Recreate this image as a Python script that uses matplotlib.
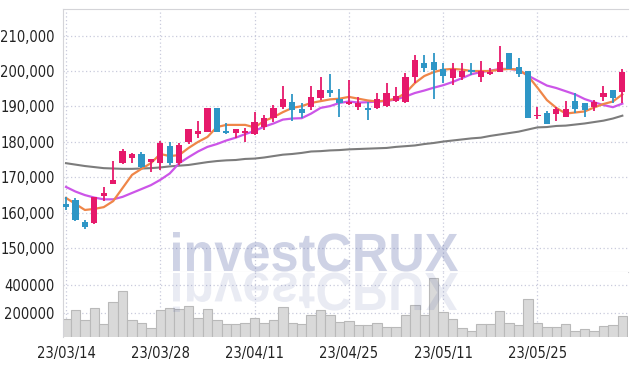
# -*- coding: utf-8 -*-
"""Grafico de velas con medias moviles y volumen"""
import numpy as np
import matplotlib
matplotlib.use("Agg")
import matplotlib.pyplot as plt
from matplotlib.textpath import TextPath
from matplotlib.patches import PathPatch
from matplotlib.font_manager import FontProperties, findfont
from matplotlib.transforms import Affine2D

# fechas (dias de mercado)
fechas = ["23/03/14", "23/03/15", "23/03/16", "23/03/17", "23/03/20", "23/03/21", "23/03/22",
          "23/03/23", "23/03/24", "23/03/27", "23/03/28", "23/03/29", "23/03/30", "23/03/31",
          "23/04/03", "23/04/04", "23/04/05", "23/04/06", "23/04/07", "23/04/10", "23/04/11",
          "23/04/12", "23/04/13", "23/04/14", "23/04/17", "23/04/18", "23/04/19", "23/04/20",
          "23/04/21", "23/04/24", "23/04/25", "23/04/26", "23/04/27", "23/04/28", "23/05/02",
          "23/05/03", "23/05/04", "23/05/08", "23/05/09", "23/05/10", "23/05/11", "23/05/12",
          "23/05/15", "23/05/16", "23/05/17", "23/05/18", "23/05/19", "23/05/22", "23/05/23",
          "23/05/24", "23/05/25", "23/05/26", "23/05/30", "23/05/31", "23/06/01", "23/06/02",
          "23/06/05", "23/06/07", "23/06/08", "23/06/09"]

# precios OHLC
apertura = [162480, 163610, 157410, 157040, 164820, 168040, 173960, 175370, 176580, 174240,
            173960, 178930, 173960, 179880, 182220, 182870, 189470, 183070, 182590, 182420,
            182220, 184280, 186650, 189920, 191160, 189270, 189920, 192460, 194630, 192010,
            190600, 189920, 189640, 189470, 190200, 191610, 191330, 198210, 202330, 202610,
            200470, 197930, 198380, 200270, 198210, 199140, 199790, 204980, 201200, 199990,
            187300, 188060, 187780, 187100, 191530, 191050, 189750, 192740, 194630, 194150]
maximo = [164540, 164090, 157970, 164500, 167360, 174690, 178000, 176950, 177230, 175180,
          180330, 179880, 179770, 183700, 185970, 189600, 189600, 185240, 183600, 183920,
          188340, 187580, 190400, 195760, 193500, 190880, 195760, 198210, 199140, 194830,
          197450, 192660, 191330, 193870, 196520, 195560, 199340, 204500, 204500, 204980,
          202330, 202160, 202160, 202160, 202890, 200750, 206950, 205100, 203570, 200100,
          189750, 188790, 189750, 191610, 193870, 191100, 191810, 195760, 194700, 200550]
minimo = [160790, 157800, 155350, 156900, 163410, 168040, 173680, 174130, 172550, 171420,
          172070, 173480, 173500, 179500, 181010, 182700, 182870, 182140, 181010, 179880,
          181940, 183350, 185690, 189190, 185970, 186650, 188990, 191810, 192740, 187100,
          190500, 188990, 186170, 189300, 189920, 191330, 190880, 196690, 199790, 192010,
          196520, 196040, 197450, 198860, 196970, 198860, 199700, 200470, 198380, 186820,
          186370, 185130, 185970, 187000, 188060, 187100, 188790, 191530, 191050, 191050]
cierre = [161720, 157970, 156080, 164370, 165500, 169250, 177510, 176580, 173000, 175090,
          179700, 173960, 179120, 183550, 183070, 189470, 182870, 182590, 183550, 182980,
          185520, 186650, 189640, 192090, 188990, 188230, 192570, 194630, 193870, 191050,
          191330, 191050, 188990, 192010, 193700, 192940, 198210, 203090, 200920, 200270,
          198580, 200470, 199900, 199850, 200130, 199790, 202440, 200470, 199140, 186820,
          187500, 185130, 189270, 189190, 189270, 188990, 191330, 193700, 192460, 199620]

# medias moviles
ma_naranja = [164200, 162500, 160800, 161100, 161600, 163300, 167000, 170700, 172400, 174000,
              176600, 176000, 176300, 178300, 180000, 181400, 184200, 184800, 184800, 184800,
              184100, 185900, 187000, 188400, 189600, 190100, 191000, 191500, 192000, 192200,
              192700, 192200, 191700, 191400, 191700, 192200, 193800, 196600, 198600, 199700,
              200400, 200600, 200400, 200000, 200000, 200000, 200400, 200600, 200400, 198600,
              195300, 191800, 189600, 188000, 188300, 188600, 189700, 190700, 191400, 193400]
ma_morada = [167300, 166000, 165000, 164300, 163800, 163800, 164500, 165600, 166700, 167800,
             169300, 171100, 174000, 175700, 177300, 178600, 179400, 180400, 181200, 182200,
             183100, 184300, 185200, 186300, 186600, 186700, 188000, 189600, 190100, 191000,
             191400, 191100, 191200, 191400, 191500, 192000, 192800, 193800, 194500, 195300,
             196000, 196900, 198000, 199100, 199700, 200100, 200600, 200600, 200300, 198700,
             197300, 195900, 195200, 194300, 193400, 192100, 191200, 190400, 189800, 190800]
ma_gris = [174000, 173600, 173200, 172900, 172600, 172500, 172400, 172400, 172500, 172600,
           172800, 173100, 173300, 173500, 173900, 174300, 174600, 174800, 174900, 175200,
           175300, 175600, 176000, 176400, 176600, 176900, 177300, 177400, 177600, 177700,
           177900, 178000, 178100, 178200, 178300, 178600, 178800, 179000, 179400, 179700,
           180100, 180400, 180700, 181000, 181200, 181700, 182100, 182500, 182900, 183500,
           184100, 184200, 184500, 184600, 184900, 185200, 185600, 186000, 186600, 187400]

# volumen
volumen = [152000, 219500, 145100, 231800, 118400, 275100, 356700, 145100, 123400, 87400,
           217300, 231800, 224500, 246200, 159600, 224500, 145100, 118400, 118400, 123400,
           159600, 123400, 145100, 239000, 123400, 118400, 183400, 219500, 183400, 130700,
           140100, 109000, 109000, 123400, 94600, 94600, 181200, 255600, 183400, 448400,
           202900, 152300, 87400, 67900, 118400, 118400, 212300, 127800, 109000, 296700,
           127800, 94600, 94600, 116200, 67900, 82300, 67900, 104000, 111200, 176200]

precio_ticks = [150000, 160000, 170000, 180000, 190000, 200000, 210000]
volumen_ticks = [200000, 400000]

# colores
c_sube = "#e6196b"
c_baja = "#2e96c6"
c_grid = "#c9cbdc"
c_borde = "#d4d4d8"

# fuente estrecha para los ejes (si no hay condensada, letra mas chica)
fp_ejes = FontProperties(family="DejaVu Sans", stretch="condensed", weight="medium")
if "Condensed" in findfont(fp_ejes):
    fp_ejes.set_size(10.5)
else:
    fp_ejes = FontProperties(family="DejaVu Sans", size=8.6)

x = np.arange(len(fechas))
o = np.array(apertura)
h = np.array(maximo)
l = np.array(minimo)
c = np.array(cierre)
colores = [c_sube if c[i] >= o[i] else c_baja for i in range(len(x))]

fig = plt.figure(figsize=(6.36, 3.66), dpi=100)
ax = fig.add_axes([63 / 636, 94 / 366, 565 / 636, 263 / 366])
axv = fig.add_axes([63 / 636, 28.7 / 366, 565 / 636, 65.3 / 366], sharex=ax)

# grilla
for a in (ax, axv):
    a.grid(True, linestyle=(0, (1, 2)), color=c_grid, linewidth=0.9)
    a.set_axisbelow(True)
    a.tick_params(length=0, colors="#222222")
    for s in ("right", "bottom", "top"):
        a.spines[s].set_visible(False)
    a.spines["left"].set_color(c_borde)
ax.spines["top"].set_visible(True)
ax.spines["top"].set_color(c_borde)
ax.spines["bottom"].set_visible(True)
ax.spines["bottom"].set_color(c_borde)

# medias moviles
ax.plot(x, ma_gris, color="#7c7c7c", linewidth=1.5, zorder=2)
ax.plot(x, ma_morada, color="#cc55e8", linewidth=1.6, zorder=2)
ax.plot(x, ma_naranja, color="#ef8648", linewidth=1.6, zorder=3)

# velas
ax.vlines(x, l, h, colors=colores, linewidth=1.3, zorder=4)
cuerpo = np.maximum(np.abs(c - o), 350)
ax.bar(x, cuerpo, bottom=np.minimum(o, c), width=0.66, color=colores, zorder=5)

ax.set_ylim(143300, 217500)
ax.set_xlim(-0.32, 59.6)
ax.set_yticks(precio_ticks)
ax.set_yticklabels([f"{v:,}" for v in precio_ticks], fontproperties=fp_ejes)
plt.setp(ax.get_xticklabels(), visible=False)
ax.tick_params(axis="y", pad=6)

# volumen
axv.bar(x, volumen, width=1.0, color="#d9d9d9", edgecolor="#b9b9b9", linewidth=0.8, zorder=2)
axv.set_ylim(22400, 494000)
axv.set_yticks(volumen_ticks)
axv.set_yticklabels([str(v) for v in volumen_ticks], fontproperties=fp_ejes)
axv.set_xticks(x[::10])
axv.set_xticklabels(fechas[::10], fontproperties=fp_ejes)
axv.tick_params(axis="y", pad=6)
axv.tick_params(axis="x", pad=6)

# marca de agua con reflejo
fp = FontProperties(family="Liberation Sans", weight="bold")
tp = TextPath((0, 0), "investCRUX", size=100, prop=fp)
ext = tp.get_extents()
sx = 285 / ext.width
sy = 39 / ext.ymax
base = Affine2D().translate(-ext.x0, 0)
t_main = base + Affine2D().scale(sx, sy).translate(173, 95).scale(1 / fig.dpi) + fig.dpi_scale_trans
t_refl = base + Affine2D().scale(sx, -sy).translate(173, 93).scale(1 / fig.dpi) + fig.dpi_scale_trans
fig.add_artist(PathPatch(tp, transform=t_main, facecolor="#3c4e9a", edgecolor="none",
                         alpha=0.25, zorder=10))
fig.add_artist(PathPatch(tp, transform=t_refl, facecolor="#3c4e9a", edgecolor="none",
                         alpha=0.11, zorder=10))

fig.savefig("out.png", dpi=100)
